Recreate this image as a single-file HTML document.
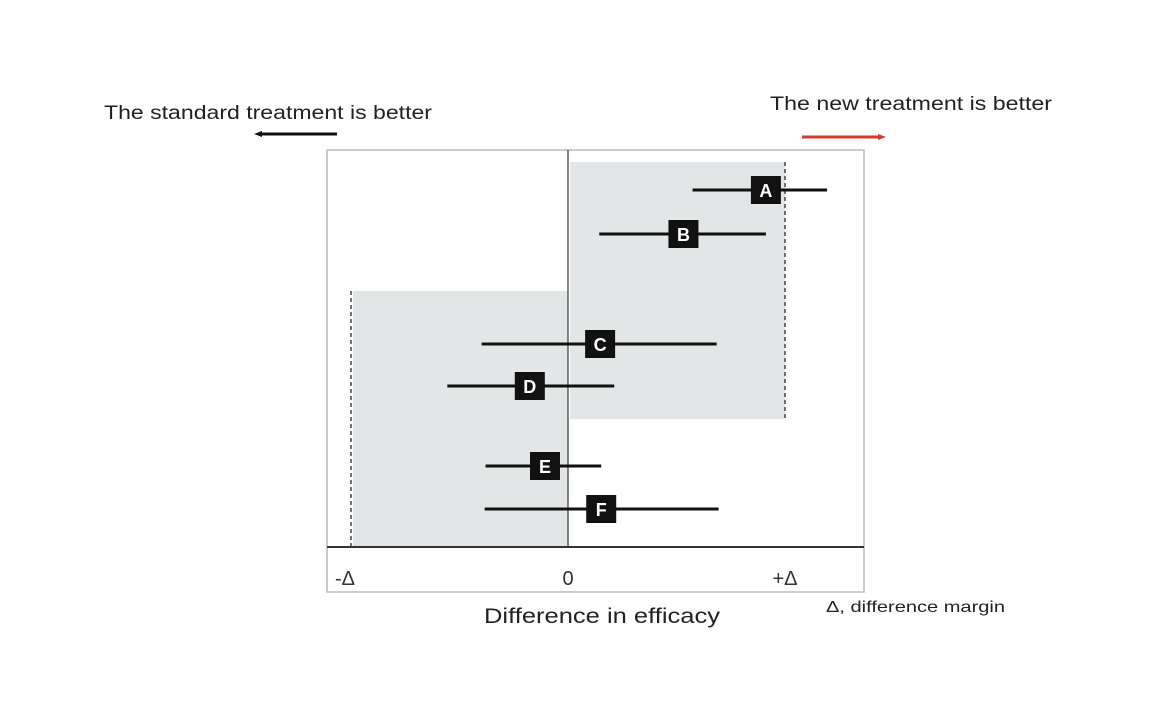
<!DOCTYPE html>
<html><head><meta charset="utf-8"><style>
body{margin:0;background:#fff;width:1150px;height:716px;overflow:hidden;font-family:"Liberation Sans","DejaVu Sans",sans-serif}
</style></head><body>
<svg width="1150" height="716" viewBox="0 0 1150 716">
<text x="104" y="119" font-size="19" fill="#222" textLength="328" lengthAdjust="spacingAndGlyphs">The standard treatment is better</text>
<g><line x1="260" y1="134" x2="337" y2="134" stroke="#111" stroke-width="3"/><polygon points="254,134 262,131 262,137" fill="#111"/></g>
<text x="770" y="110" font-size="19" fill="#222" textLength="282" lengthAdjust="spacingAndGlyphs">The new treatment is better</text>
<g><line x1="802" y1="137" x2="880" y2="137" stroke="#d63a2a" stroke-width="3"/><polygon points="886,137 878,134 878,140" fill="#d63a2a"/></g>
<rect x="327" y="150" width="537" height="442" fill="#fff" stroke="#bbb" stroke-width="1.5"/>
<g id="plot"></g>
<line x1="327" y1="547" x2="864" y2="547" stroke="#333" stroke-width="2"/>
<text x="484" y="623" font-size="21" fill="#222" textLength="236" lengthAdjust="spacingAndGlyphs">Difference in efficacy</text>
<text x="826" y="612" font-size="16" fill="#222" textLength="179" lengthAdjust="spacingAndGlyphs">Δ, difference margin</text>
</svg>
<script>
const labels=["A","B","C","D","E","F"];
const lows=[0.574,0.144,-0.398,-0.556,-0.380,-0.384];
const ests=[0.912,0.532,0.148,-0.176,-0.106,0.153];
const highs=[1.194,0.912,0.685,0.213,0.153,0.694];
const tickVals=[-1,0,1];
const tickLabels=["-Δ","0","+Δ"];
const NS="http://www.w3.org/2000/svg";
const g=document.getElementById('plot');
const X=v=>568+v*217;
const Y=i=>[190,234,344,386,466,509][i];
function mk(t,a){const e=document.createElementNS(NS,t);for(const k in a)e.setAttribute(k,a[k]);g.appendChild(e);return e;}
let r=mk('rect',{x:X(0)+2,y:162,width:X(1)-X(0)-2,height:257,fill:'#e2e6e6'});


r=mk('rect',{x:X(-1)+2,y:291,width:X(0)-X(-1)-2,height:256,fill:'#e2e6e6'});


let l=mk('line',{x1:X(1),y1:162,x2:X(1),y2:419,stroke:'#444','stroke-width':1.5,'stroke-dasharray':'4,3'});


l=mk('line',{x1:X(-1),y1:291,x2:X(-1),y2:547,stroke:'#444','stroke-width':1.5,'stroke-dasharray':'4,3'});


l=mk('line',{x1:X(0),y1:150,x2:X(0),y2:547,stroke:'#444','stroke-width':1.3});


tickVals.forEach((v,i)=>{
 const t=mk('text',{x:X(v)+(i==0?-6:0),y:585,'font-size':20,'text-anchor':'middle',fill:'#333'});
 t.textContent=tickLabels[i];
 
 
});
labels.forEach((lab,i)=>{
 const y=Y(i);
 const ln=mk('line',{x1:X(lows[i]),y1:y,x2:X(highs[i]),y2:y,stroke:'#111','stroke-width':3});
 
 
 const b=mk('rect',{x:X(ests[i])-15,y:y-14,width:30,height:28,fill:'#111'});
 
 
 const t=mk('text',{x:X(ests[i]),y:y+7,'font-size':18,'font-weight':'bold','text-anchor':'middle',fill:'#fff'});
 t.textContent=lab;
 
 
});
</script>
</body></html>
